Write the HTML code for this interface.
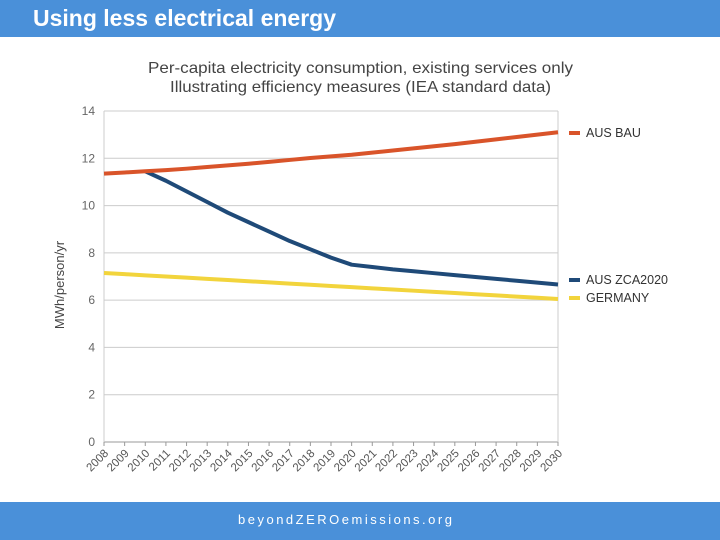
<!DOCTYPE html>
<html><head><meta charset="utf-8"><style>
body{margin:0;width:720px;height:540px;overflow:hidden;background:#fff;font-family:"Liberation Sans",sans-serif;position:relative}
#hdr{position:absolute;left:0;top:0;width:720px;height:37px;background:#4a90d9}
#hdr span{position:absolute;left:33px;top:5px;color:#fff;font-size:23px;font-weight:bold}
#ftr{position:absolute;left:0;top:502px;width:720px;height:38px;background:#4a90d9}
#ftr span{position:absolute;left:238px;top:10px;color:#fff;font-size:13px;letter-spacing:2.5px}
svg{position:absolute;left:0;top:0}
</style></head><body>
<div id="hdr"><span>Using less electrical energy</span></div>
<svg id="chart" width="720" height="540"></svg>
<div id="ftr"><span>beyondZEROemissions.org</span></div>
<script>
const years=[2008,2009,2010,2011,2012,2013,2014,2015,2016,2017,2018,2019,2020,2021,2022,2023,2024,2025,2026,2027,2028,2029,2030];
const ausBau=[11.35,11.40,11.45,11.50,11.56,11.63,11.70,11.77,11.85,11.93,12.01,12.08,12.15,12.24,12.33,12.42,12.51,12.60,12.70,12.80,12.90,13.00,13.10];
const ausZca=[null,null,11.45,11.05,10.60,10.15,9.70,9.30,8.90,8.50,8.15,7.80,7.50,7.40,7.30,7.22,7.14,7.06,6.98,6.90,6.82,6.74,6.66];
const germany=[7.15,7.10,7.05,7.00,6.95,6.90,6.85,6.80,6.75,6.70,6.65,6.60,6.55,6.50,6.45,6.40,6.35,6.30,6.25,6.20,6.15,6.10,6.05];
const yTicks=[0,2,4,6,8,10,12,14];
const seriesNames=["AUS BAU","AUS ZCA2020","GERMANY"];
const seriesColors=["#d9542a","#1f4a78","#f2d43c"];
const NS="http://www.w3.org/2000/svg";
const svg=document.getElementById('chart');
const X0=104,X1=558,Y0=442,Y1=111;
function xs(i){return X0+(X1-X0)*i/(years.length-1);}
function ys(v){return Y0-(Y0-Y1)*v/14;}
function mk(t,a,p){const e=document.createElementNS(NS,t);for(const k in a)e.setAttribute(k,a[k]);(p||svg).appendChild(e);return e;}
let t=mk('text',{x:148,y:73,'font-size':16,fill:'#444',textLength:425,lengthAdjust:'spacingAndGlyphs'});t.textContent="Per-capita electricity consumption, existing services only";


t=mk('text',{x:170,y:92,'font-size':16,fill:'#444',textLength:381,lengthAdjust:'spacingAndGlyphs'});t.textContent="Illustrating efficiency measures (IEA standard data)";


yTicks.forEach(v=>{
  const l=mk('line',{x1:X0,x2:X1,y1:ys(v),y2:ys(v),stroke:v===0?'#999':'#ccc','stroke-width':1});
  
  
  const tx=mk('text',{x:95,y:ys(v)+4,'text-anchor':'end','font-size':12,fill:'#666'});tx.textContent=v;
  
  
});
mk('line',{x1:X0,x2:X0,y1:Y1,y2:Y0,stroke:'#ccc'});
mk('line',{x1:X1,x2:X1,y1:Y1,y2:Y0,stroke:'#ccc'});
years.forEach((yr,i)=>{
  mk('line',{x1:xs(i),x2:xs(i),y1:Y0,y2:Y0+4,stroke:'#999'});
  const tx=mk('text',{x:xs(i)+5,y:Y0+12,'text-anchor':'end','font-size':11.5,fill:'#555',transform:`rotate(-45 ${xs(i)+5} ${Y0+12})`});tx.textContent=yr;
  
  
});
t=mk('text',{x:64,y:285,'text-anchor':'middle','font-size':13,fill:'#444',transform:'rotate(-90 64 285)'});t.textContent="MWh/person/yr";


const legY=[133,280,298];
[germany,ausZca,ausBau].forEach((s,k)=>{
  const idx=2-k;
  let d='';s.forEach((v,i)=>{if(v===null)return;d+=(d?'L':'M')+xs(i)+','+ys(v);});
  const p=mk('path',{d:d,fill:'none',stroke:seriesColors[idx],'stroke-width':4,'stroke-linejoin':'round'});
  
  
});
seriesNames.forEach((n,i)=>{
  const g=mk('g',{});
  
  
  mk('line',{x1:569,x2:580,y1:legY[i],y2:legY[i],stroke:seriesColors[i],'stroke-width':4},g);
  const tx=mk('text',{x:586,y:legY[i]+4,'font-size':12.5,fill:'#333'},g);tx.textContent=n;
});
</script>
</body></html>
